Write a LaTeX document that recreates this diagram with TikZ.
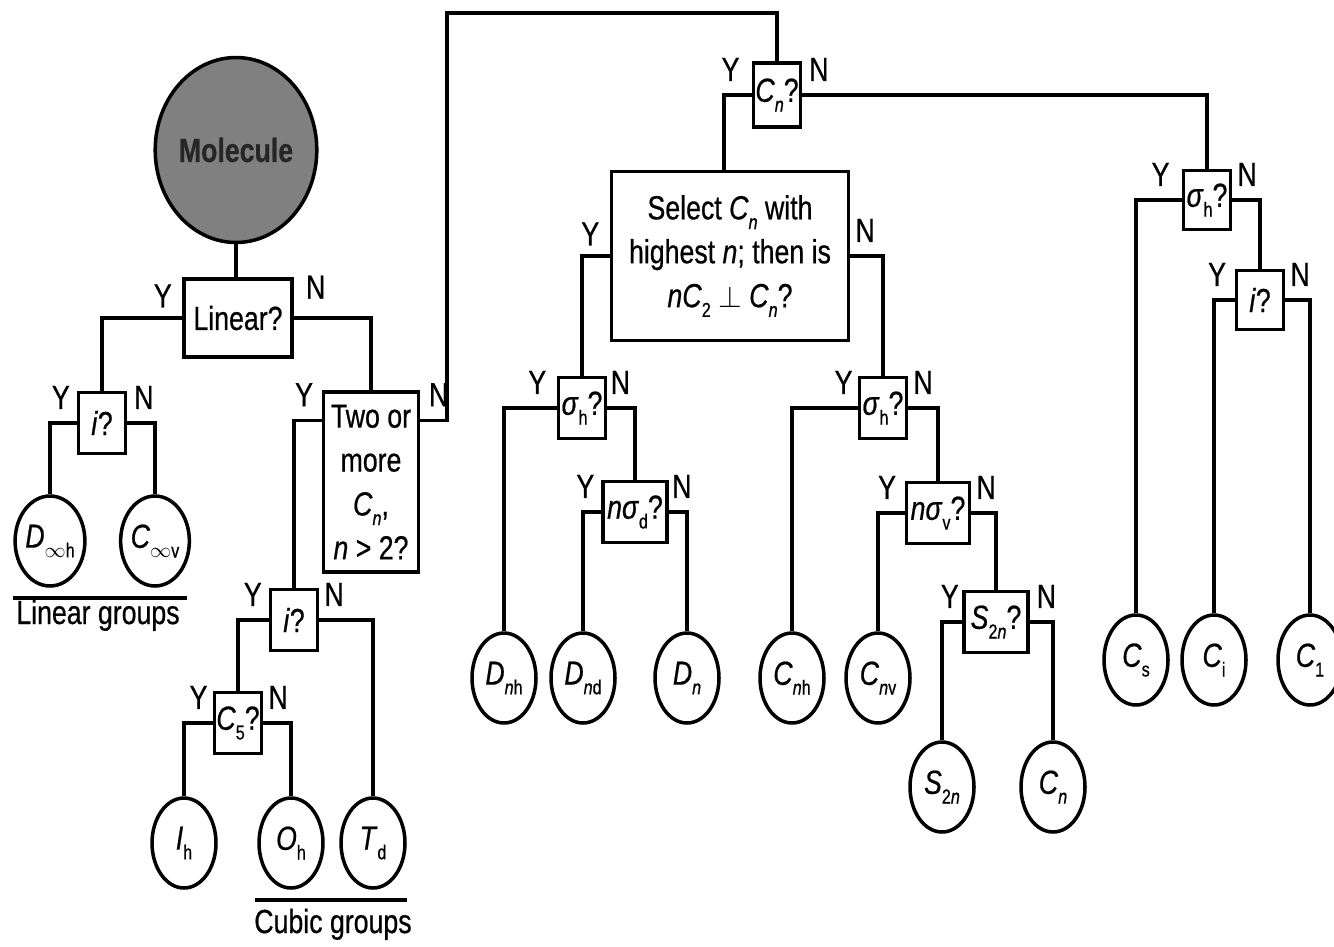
\documentclass[tikz,border=0pt]{standalone}
\usepackage{fontspec}
\setmainfont{Liberation Sans}[FakeStretch=0.8, FakeBold=0.6]
\usetikzlibrary{shapes.geometric}

% lowered index and group symbol
\newcommand{\lo}[1]{\raisebox{-0.55ex}{\fontsize{11.5}{12}\selectfont#1}}
\newcommand{\grp}[2]{\textit{#1}\lo{#2}}

\tikzset{
  qbox/.style={draw, inner sep=1pt, align=center},
  sbox/.style={qbox, minimum width=0.94cm, minimum height=1.22cm},
  grp/.style={ellipse, draw, inner sep=0pt, minimum width=1.28cm, minimum height=1.8cm},
  mol/.style={ellipse, draw, fill=black!50, text=black!85, inner sep=0pt,
              minimum width=2.84cm, minimum height=3.7cm},
  yn/.style={inner sep=0pt}
}

\begin{document}
\begin{tikzpicture}[x=0.02cm, y=-0.02cm, line width=2pt,
                    font=\fontsize{19}{25}\selectfont]

  \useasboundingbox (0,0) rectangle (1334,946);

  % start
  \node[mol] (mol) at (236,150) {\textbf{Molecule}};

  % question boxes
  \node[qbox, minimum width=2.16cm, minimum height=1.56cm] (lin) at (238,318) {Linear?};
  \node[sbox] (il) at (102,423) {\textit{i}?};
  \node[qbox, minimum width=1.9cm, minimum height=3.6cm] (two) at (371,482)
    {Two or\\more\\\grp{C}{\textit{n}},\\\textit{n} > 2?};
  \node[sbox] (ic) at (294,620) {\textit{i}?};
  \node[sbox] (c5) at (238,723) {\grp{C}{5}?};
  \node[sbox, minimum height=1.28cm] (cn) at (777,95) {\grp{C}{\textit{n}}?};
  \node[qbox, minimum width=4.74cm, minimum height=3.38cm] (sel) at (730,256)
    {Select \grp{C}{\textit{n}} with\\highest \textit{n}; then is\\\textit{n}\grp{C}{2} $\perp$ \grp{C}{\textit{n}}?};
  \node[sbox] (sha) at (582,408) {\grp{σ}{h}?};
  \node[sbox, minimum width=1.28cm] (nsd) at (635,512) {\textit{n}\grp{σ}{d}?};
  \node[sbox] (shb) at (883,408) {\grp{σ}{h}?};
  \node[sbox, minimum width=1.26cm] (nsv) at (938,513) {\textit{n}\grp{σ}{v}?};
  \node[sbox, minimum width=1.28cm] (s2n) at (996,622) {\grp{S}{2\textit{n}}?};
  \node[sbox, minimum height=1.18cm] (shc) at (1207,200) {\grp{σ}{h}?};
  \node[sbox, minimum height=1.18cm] (ir) at (1260,300) {\textit{i}?};

  % point groups
  \node[grp] (dih) at (50,541) {\grp{D}{$\infty$h}};
  \node[grp] (civ) at (155,541) {\grp{C}{$\infty$v}};
  \node[grp] (ih) at (184,843) {\grp{I}{h}};
  \node[grp] (oh) at (291,843) {\grp{O}{h}};
  \node[grp] (td) at (373,843) {\grp{T}{d}};
  \node[grp] (dnh) at (504,678) {\grp{D}{\textit{n}h}};
  \node[grp] (dnd) at (583,678) {\grp{D}{\textit{n}d}};
  \node[grp] (dn) at (687,678) {\grp{D}{\textit{n}}};
  \node[grp] (cnh) at (792,678) {\grp{C}{\textit{n}h}};
  \node[grp] (cnv) at (878,678) {\grp{C}{\textit{n}v}};
  \node[grp] (s2) at (942,787) {\grp{S}{2\textit{n}}};
  \node[grp] (cnn) at (1053,787) {\grp{C}{\textit{n}}};
  \node[grp] (cs) at (1136,660) {\grp{C}{s}};
  \node[grp] (ci) at (1214,660) {\grp{C}{i}};
  \node[grp] (c1) at (1310,660) {\grp{C}{1}};

  % captions
  \node[anchor=base, inner sep=0pt] (lgr) at (98,624) {Linear groups};
  \draw (13,598) -- (187,598);
  \node[anchor=base, inner sep=0pt] (cgr) at (333,933) {Cubic groups};
  \draw (255,900) -- (407,900);

  % branch points
  \coordinate (twoY) at ([yshift=-0.6cm]two.north west);
  \coordinate (twoN) at ([yshift=-0.6cm]two.north east);
  \coordinate (over) at (447,13);

  % connectors
  \draw (mol.south) -- (mol.south |- lin.north);
  \draw (lin.west) -| (il.north);
  \draw (lin.east) -| (two.north);
  \draw (il.west) -| (dih.north);
  \draw (il.east) -| (civ.north);
  \draw (twoY) -| (ic.north);
  \draw (twoN) -| (over) -| (cn.north);
  \draw (ic.west) -| (c5.north);
  \draw (ic.east) -| (td.north);
  \draw (c5.west) -| (ih.north);
  \draw (c5.east) -| (oh.north);
  \draw (cn.west) -| ([xshift=-0.12cm]sel.north);
  \draw (cn.east) -| (shc.north);
  \draw (sel.west) -| (sha.north);
  \draw (sel.east) -| (shb.north);
  \draw (sha.west) -| (dnh.north);
  \draw (sha.east) -| (nsd.north);
  \draw (nsd.west) -| (dnd.north);
  \draw (nsd.east) -| (dn.north);
  \draw (shb.west) -| (cnh.north);
  \draw (shb.east) -| (nsv.north);
  \draw (nsv.west) -| (cnv.north);
  \draw (nsv.east) -| (s2n.north);
  \draw (s2n.west) -| (s2.north);
  \draw (s2n.east) -| (cnn.north);
  \draw (shc.west) -| (cs.north);
  \draw (shc.east) -| (ir.north);
  \draw (ir.west) -| (ci.north);
  \draw (ir.east) -| (c1.north);

  % Y / N labels
  \node[yn, anchor=south east] (lin-y) at ([xshift=-5pt,yshift=5pt]lin.west) {Y};
  \node[yn, anchor=south west] (lin-n) at ([xshift=6pt,yshift=10pt]lin.east) {N};
  \node[yn, anchor=south east] (il-y) at ([xshift=-3pt,yshift=7pt]il.west) {Y};
  \node[yn, anchor=south west] (il-n) at ([xshift=3pt,yshift=7pt]il.east) {N};
  \node[yn, anchor=south east] (two-y) at ([xshift=-4pt,yshift=7pt]twoY) {Y};
  \node[yn, anchor=south west] (two-n) at ([xshift=4pt,yshift=7pt]twoN) {N};
  \node[yn, anchor=south east] (ic-y) at ([xshift=-3pt,yshift=7pt]ic.west) {Y};
  \node[yn, anchor=south west] (ic-n) at ([xshift=2pt,yshift=7pt]ic.east) {N};
  \node[yn, anchor=south east] (c5-y) at ([xshift=-2pt,yshift=7pt]c5.west) {Y};
  \node[yn, anchor=south west] (c5-n) at ([xshift=2pt,yshift=7pt]c5.east) {N};
  \node[yn, anchor=south east] (cn-y) at ([xshift=-6pt,yshift=7pt]cn.west) {Y};
  \node[yn, anchor=south west] (cn-n) at ([xshift=3pt,yshift=7pt]cn.east) {N};
  \node[yn, anchor=south east] (sel-y) at ([xshift=-5pt,yshift=5pt]sel.west) {Y};
  \node[yn, anchor=south west] (sel-n) at ([xshift=2pt,yshift=7pt]sel.east) {N};
  \node[yn, anchor=south east] (sha-y) at ([xshift=-5pt,yshift=7pt]sha.west) {Y};
  \node[yn, anchor=south west] (sha-n) at ([xshift=1pt,yshift=7pt]sha.east) {N};
  \node[yn, anchor=south east] (nsd-y) at ([xshift=-3pt,yshift=7pt]nsd.west) {Y};
  \node[yn, anchor=south west] (nsd-n) at ([xshift=1pt,yshift=7pt]nsd.east) {N};
  \node[yn, anchor=south east] (shb-y) at ([xshift=-2pt,yshift=7pt]shb.west) {Y};
  \node[yn, anchor=south west] (shb-n) at ([xshift=2pt,yshift=7pt]shb.east) {N};
  \node[yn, anchor=south east] (nsv-y) at ([xshift=-4pt,yshift=7pt]nsv.west) {Y};
  \node[yn, anchor=south west] (nsv-n) at ([xshift=2pt,yshift=7pt]nsv.east) {N};
  \node[yn, anchor=south east] (s2n-y) at ([xshift=-1pt,yshift=7pt]s2n.west) {Y};
  \node[yn, anchor=south west] (s2n-n) at ([xshift=3pt,yshift=7pt]s2n.east) {N};
  \node[yn, anchor=south east] (shc-y) at ([xshift=-6pt,yshift=7pt]shc.west) {Y};
  \node[yn, anchor=south west] (shc-n) at ([xshift=2pt,yshift=7pt]shc.east) {N};
  \node[yn, anchor=south east] (ir-y) at ([xshift=-4pt,yshift=7pt]ir.west) {Y};
  \node[yn, anchor=south west] (ir-n) at ([xshift=2pt,yshift=7pt]ir.east) {N};

\end{tikzpicture}
\end{document}
